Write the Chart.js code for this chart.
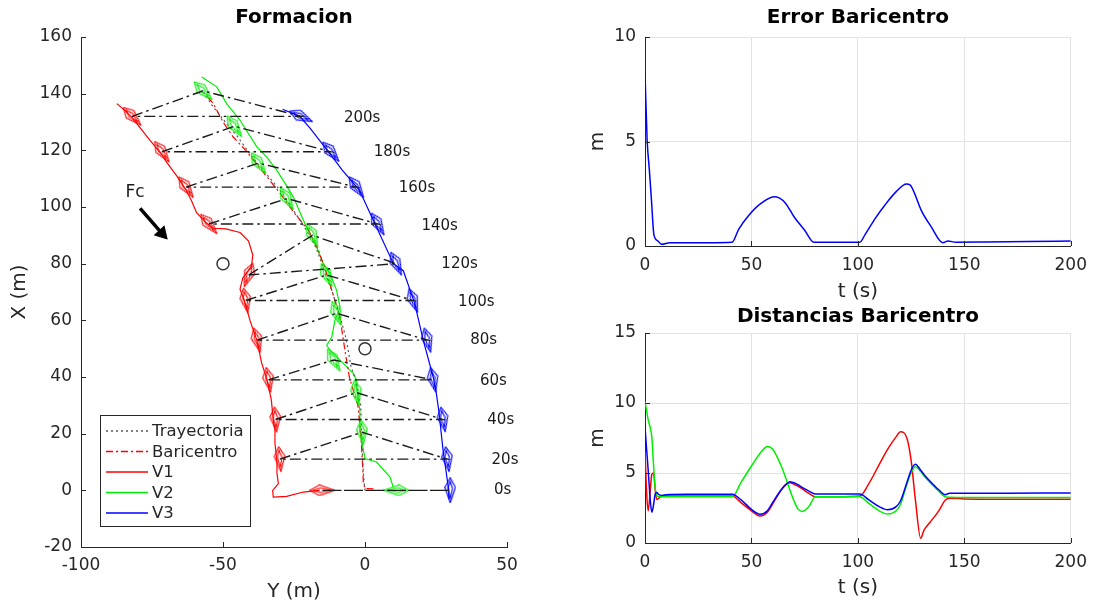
<!DOCTYPE html>
<html><head><meta charset="utf-8">
<script src="https://cdn.jsdelivr.net/npm/chart.js@4.4.1/dist/chart.umd.min.js"></script>
<style>
html,body{margin:0;padding:0;background:#fff;width:1096px;height:605px;overflow:hidden}
canvas{position:absolute}
#c1{left:0;top:0}
#c2{left:560px;top:0}
#c3{left:560px;top:295px}
</style></head><body>
<canvas id="c1" width="540" height="605"></canvas>
<canvas id="c2" width="536" height="305"></canvas>
<canvas id="c3" width="536" height="310"></canvas>
<script>
// ---------------- DATA ----------------
// Formation snapshots (Y = horizontal axis, X = vertical axis, metres)
const times      = [0, 20, 40, 60, 80, 100, 120, 140, 160, 180, 200];
const timeLabels = ['0s','20s','40s','60s','80s','100s','120s','140s','160s','180s','200s'];
const v1Y = [-15, -30, -31.5, -34, -38, -42, -41, -55, -63, -71.5, -82];
const v1X = [0, 11, 25, 39, 53, 67, 76, 94, 107, 119.5, 132];
const v2Y = [11, -1, -3, -11, -10, -13.5, -18.5, -27.5, -37.5, -46, -57];
const v2X = [0, 20.5, 34.5, 46, 62.5, 76, 90, 103, 115.5, 128.5, 141];
const v3Y = [30, 29, 27.5, 24, 22, 17, 11, 4.5, -3, -12, -22.5];
const v3X = [0, 11, 25, 39, 53, 67, 80, 94, 107, 119.5, 132];
// vessel headings at the snapshots (deg, clockwise from +X)
const v1Psi = [-90, -5, -5, -10, -15, -10, 20, -40, -35, -35, -45];
const v2Psi = [90, -5, -10, -30, -20, -25, -25, -30, -35, -35, -45];
const v3Psi = [0, -8, -10, -12, -15, -20, -25, -30, -35, -40, -65];
// label positions for snapshot times
const labY = [48.5, 49.3, 47.8, 45.2, 41.8, 39.2, 33.3, 26.3, 18.3, 9.5, -1];
const labX = [0, 10.5, 24.8, 38.7, 53, 66.6, 79.8, 93.2, 106.5, 119.5, 131.5];

// vessel tracks
const v1PathY = [-16,-21.7,-27.6,-32.3,-32.5,-30.5,-31,-31,-31.7,-31.7,-32.3,-33,-34.5,-36.4,-38.1,-40.5,-42.5,-44,-43,-40,-39.5,-41,-44,-49,-53.5,-56,-59.3,-61,-63,-66.3,-70,-72.2,-75.7,-80,-82.2,-84.5,-87.4];
const v1PathX = [0,-0.6,-2.1,-2.4,0,2.4,6,10,16.5,21,25,32,39,45,53,60,67,71,75,79,83,88,91,92.3,92.5,94.5,98,102,106,111,116,119.4,123.5,129,131.8,134,136.5];
const v2PathY = [10,8.8,4.1,0,-1.2,-1.8,-1.8,-2.9,-2.9,-4.1,-7.6,-12.3,-13.5,-11.7,-10.6,-8.8,-10,-12.3,-14.7,-17,-19.4,-21.7,-25.2,-28.8,-31.1,-34.6,-38.1,-44,-48.7,-52.2,-57.5];
const v2PathX = [1,4.7,10,11.2,17.6,21.2,28.2,35.3,38.8,41.2,44.7,49.4,51.2,54.1,60,64.7,70.6,76.5,80,85.9,90.6,95.3,103.5,109.4,113,117.6,121.2,130.6,136.5,142.4,145.9];
const v3PathY = [29.5,29.5,28.5,27.5,26,25,24,20.5,17.5,13.5,10,4,-2,-8,-12.5,-19.5,-23,-29];
const v3PathX = [-3,0,7,14,28,35,40,53,66,77.5,80,93,106,113,119,128,132,134.5];
const barY = [3,0,-0.6,-0.8,-1.5,-2.5,-3.5,-5.5,-7,-8.8,-11.5,-14,-16.5,-20,-25,-30,-34,-38,-42,-46.4,-50,-53.4,-56];
const barX = [0.5,0.6,3,8,20,30,33,40,49,61,70,78,85,92,98,105,110,115,120,124.7,130,136.5,139.5];
const trajY = [0,-0.5,-1,-1.5,-3,-5,-6,-7,-9,-11.5,-14.5,-17,-19,-22,-26,-30,-35,-40,-45,-50,-54,-57];
const trajX = [0,5,15,30,38,44,50,55,62,70,78,85,89,94,100,106,112,118,125,131,136,141];
// obstacles and disturbance force
const obstY = [-50, 0];
const obstX = [80, 50];
const fcY = [-79.2, -71.5];
const fcX = [99.5, 90.7];
const fcLabel = {y: -81, x: 105, text: 'Fc'};

// Error Baricentro
const errT = [0,1,2,3,4.2,6,7.8,11.7,20,30,40.9,44,48.9,54,60.6,63,66,70,75,79.3,90,100.9,103.3,108,113,118,122.8,124.5,126.6,129.7,134.4,139.9,142.3,146,160,180,200];
const errV = [8.3,5.07,3.7,2.25,0.53,0.25,0.08,0.16,0.16,0.16,0.18,0.8,1.48,2.0,2.36,2.3,2.05,1.4,0.75,0.18,0.18,0.18,0.53,1.3,2.0,2.6,2.97,2.93,2.52,1.72,0.93,0.16,0.24,0.18,0.19,0.21,0.24];

// Distancias Baricentro
const distT = [0,0.8,1.5,2.5,3.2,4,4.8,5.5,6.5,8,10,20,30,41,45,50,54,57.5,60,64,66,68,70,72,74,77,80,90,101,105,110,114,118,120,123,125,127,129.5,131,134,138,141,143,150,170,200];
const dV1 = [6.6,3.5,2.3,3.8,4.9,5.0,3.8,3.1,3.2,3.35,3.35,3.35,3.35,3.35,2.9,2.3,1.93,2.2,2.8,3.8,4.15,4.3,4.2,4.05,3.85,3.55,3.3,3.3,3.35,4.2,5.6,6.7,7.6,7.95,7.5,5.9,3.1,0.33,0.9,1.5,2.3,3.05,3.2,3.15,3.13,3.12];
const dV2 = [10.1,9.4,8.8,8.2,7.6,5.6,3.9,3.4,3.3,3.3,3.3,3.3,3.3,3.3,4.3,5.5,6.4,6.9,6.7,5.5,4.7,3.8,3.0,2.4,2.25,2.6,3.3,3.3,3.3,2.85,2.3,2.07,2.3,2.75,4.2,5.0,5.45,5.1,4.8,4.3,3.7,3.3,3.27,3.25,3.25,3.25];
const dV3 = [8.3,6.6,5.2,3.0,2.2,2.7,3.5,3.6,3.45,3.4,3.45,3.48,3.48,3.48,3.1,2.4,2.05,2.3,2.9,3.8,4.15,4.38,4.3,4.15,3.95,3.7,3.5,3.5,3.5,3.1,2.6,2.38,2.6,3.0,4.3,5.2,5.62,5.2,4.9,4.4,3.8,3.45,3.55,3.55,3.56,3.57];

// ---------------- STYLE ----------------
const FONT = "'DejaVu Sans', sans-serif";
const INK = '#262626';
const RED = '#ff0000', GREEN = '#00ee00', BLUE = '#0000ff';
Chart.defaults.font.family = FONT;
Chart.defaults.color = INK;
Chart.defaults.animation = false;
Chart.defaults.events = [];
Chart.defaults.plugins.legend.display = false;
Chart.defaults.plugins.tooltip.enabled = false;

function pts(xs, ys){ return xs.map((x,i)=>({x:x, y:ys[i]})); }

function boatImage(color){
  const c = document.createElement('canvas'); c.width = 12; c.height = 26;
  const g = c.getContext('2d'); g.strokeStyle = color; g.lineWidth = 1.1;
  g.beginPath(); g.moveTo(6,0.5); g.lineTo(11.3,10); g.lineTo(6,25.5); g.lineTo(0.7,10); g.closePath(); g.stroke();
  g.beginPath(); g.moveTo(6,4); g.lineTo(8.3,11); g.lineTo(6,21); g.lineTo(3.7,11); g.closePath(); g.stroke();
  return c;
}

function pathDs(label, ys, xs, color, dash, order, legend){
  return {label, data: pts(ys, xs), showLine: true, borderColor: color, borderWidth: 1.2,
          borderDash: dash || [], pointRadius: 0, fill: false, order, legendEntry: legend};
}
function boatDs(ys, xs, psi, color){
  const img = boatImage(color);
  return {data: pts(ys, xs), showLine: false, pointStyle: img,
          pointRotation: ctx => psi[ctx.dataIndex], pointRadius: 8, order: 1};
}

const formDatasets = times.map((t,i)=>({
  data: [{x:v1Y[i],y:v1X[i]},{x:v2Y[i],y:v2X[i]},{x:v3Y[i],y:v3X[i]},{x:v1Y[i],y:v1X[i]}],
  showLine: true, borderColor: '#1a1a1a', borderWidth: 1.4, borderDash: [11,4,2.5,4],
  pointRadius: 0, order: 0
}));

// small inward tick marks on the left and bottom axes (MATLAB style)
const inTicks = {
  id: 'inTicks',
  afterDraw(chart){
    const {ctx, scales:{x, y}, chartArea:ca} = chart;
    ctx.save(); ctx.strokeStyle = INK; ctx.lineWidth = 1; ctx.setLineDash([]);
    ctx.beginPath();
    x.ticks.forEach(t => { const p = Math.round(x.getPixelForValue(t.value)) + 0.5; ctx.moveTo(p, ca.bottom); ctx.lineTo(p, ca.bottom - 5); });
    y.ticks.forEach(t => { const p = Math.round(y.getPixelForValue(t.value)) + 0.5; ctx.moveTo(ca.left, p); ctx.lineTo(ca.left + 5, p); });
    ctx.stroke(); ctx.restore();
  }
};

const extrasPlugin = {
  id: 'extras',
  afterDatasetsDraw(chart){
    const {ctx, scales:{x, y}, chartArea:ca} = chart;
    ctx.save();
    // time labels
    ctx.font = '15px ' + FONT; ctx.fillStyle = '#1a1a1a';
    ctx.textAlign = 'center'; ctx.textBaseline = 'middle';
    timeLabels.forEach((s,i)=> ctx.fillText(s, x.getPixelForValue(labY[i]), y.getPixelForValue(labX[i])));
    // Fc label
    ctx.font = '17px ' + FONT;
    ctx.fillText(fcLabel.text, x.getPixelForValue(fcLabel.y), y.getPixelForValue(fcLabel.x));
    // legend
    const entries = chart.data.datasets.filter(d => d.legendEntry);
    const bx = ca.left + 19, bw = 150, rowH = 20.5, bh = 111;
    const by = ca.bottom - 21 - bh;
    ctx.fillStyle = '#fff'; ctx.fillRect(bx, by, bw, bh);
    ctx.strokeStyle = INK; ctx.lineWidth = 1; ctx.setLineDash([]);
    ctx.strokeRect(bx + 0.5, by + 0.5, bw, bh);
    ctx.font = '16.5px ' + FONT; ctx.textAlign = 'left'; ctx.fillStyle = INK;
    entries.forEach((d,i)=>{
      const yy = by + 16 + i*rowH;
      ctx.beginPath(); ctx.strokeStyle = d.borderColor; ctx.lineWidth = 1.3;
      ctx.setLineDash(d.borderDash || []);
      ctx.moveTo(bx + 6, yy); ctx.lineTo(bx + 48, yy); ctx.stroke();
      ctx.setLineDash([]);
      ctx.fillText(d.label, bx + 52, yy + 1);
    });
    ctx.restore();
  }
};

// ---------------- CHART 1: Formacion ----------------
new Chart(document.getElementById('c1'), {
  type: 'scatter',
  data: { datasets: [
    ...formDatasets,
    boatDs(v1Y, v1X, v1Psi, RED),
    boatDs(v2Y, v2X, v2Psi, GREEN),
    boatDs(v3Y, v3X, v3Psi, BLUE),
    pathDs('Trayectoria', trajY, trajX, '#555555', [2,3], 3, true),
    pathDs('Baricentro', barY, barX, RED, [7,3,2,3], 3, true),
    pathDs('V1', v1PathY, v1PathX, RED, [], 4, true),
    pathDs('V2', v2PathY, v2PathX, GREEN, [], 4, true),
    pathDs('V3', v3PathY, v3PathX, BLUE, [], 4, true),
    {data: pts(obstY, obstX), showLine: false, pointStyle: 'circle', pointRadius: 6,
     pointBorderColor: '#333', pointBorderWidth: 1.5, pointBackgroundColor: 'rgba(0,0,0,0)', order: 2},
    {data: pts(fcY, fcX), showLine: true, borderColor: '#000', borderWidth: 3.5,
     pointRadius: [0, 5], pointStyle: 'triangle', pointRotation: 137,
     pointBackgroundColor: '#000', pointBorderColor: '#000', order: 2}
  ]},
  options: {
    responsive: false, maintainAspectRatio: false,
    layout: {padding: {top: 0, right: 33, bottom: 0, left: 0}},
    plugins: {
      title: {display: true, text: 'Formacion', fullSize: false, color: '#000',
              font: {size: 20, weight: 'bold', family: FONT}, padding: {top: 6, bottom: 7}}
    },
    scales: {
      x: {type: 'linear', min: -100, max: 50, ticks: {stepSize: 50, font: {size: 17}, padding: 0, color: INK},
          grid: {display: false}, border: {display: true, color: INK, width: 1},
          title: {display: true, text: 'Y (m)', font: {size: 20}, color: INK, padding: {top: 0, bottom: 1}},
          afterFit: s => { s.height = 58; }},
      y: {type: 'linear', min: -20, max: 160, ticks: {stepSize: 20, font: {size: 17}, padding: 1, color: INK},
          grid: {display: false}, border: {display: true, color: INK, width: 1},
          title: {display: true, text: 'X (m)', font: {size: 20}, color: INK, padding: {top: 8, bottom: 0}},
          afterFit: s => { s.width = 81; }}
    }
  },
  plugins: [extrasPlugin, inTicks]
});

// ---------------- Right charts ----------------
function rightScales(ymax, xh, tbot){
  return {
    x: {type: 'linear', min: 0, max: 200, ticks: {stepSize: 50, font: {size: 17}, padding: 9, color: INK},
        grid: {color: '#e2e2e2', lineWidth: 1, drawTicks: false}, border: {display: true, color: INK, width: 1},
        title: {display: true, text: 't (s)', font: {size: 20}, color: INK, padding: {top: 0, bottom: tbot}},
        afterFit: s => { s.height = xh; }},
    y: {type: 'linear', min: 0, max: ymax, ticks: {stepSize: 5, font: {size: 17}, padding: 9, color: INK},
        grid: {color: '#e2e2e2', lineWidth: 1, drawTicks: false}, border: {display: true, color: INK, width: 1},
        title: {display: true, text: 'm', font: {size: 20}, color: INK, padding: {top: 26, bottom: 0}},
        afterFit: s => { s.width = 85; }}
  };
}
function lineDs(ts, vs, color){
  return {data: pts(ts, vs), showLine: true, borderColor: color, borderWidth: 1.5,
          pointRadius: 0, cubicInterpolationMode: 'monotone'};
}

new Chart(document.getElementById('c2'), {
  type: 'scatter',
  data: {datasets: [lineDs(errT, errV, BLUE)]},
  options: {
    responsive: false, maintainAspectRatio: false,
    layout: {padding: {top: 0, right: 22, bottom: 0, left: 0}},
    plugins: {title: {display: true, text: 'Error Baricentro', fullSize: false, color: '#000',
              font: {size: 20, weight: 'bold', family: FONT}, padding: {top: 6, bottom: 7}}},
    scales: rightScales(10, 59, 1)
  },
  plugins: [inTicks]
});

new Chart(document.getElementById('c3'), {
  type: 'scatter',
  data: {datasets: [lineDs(distT, dV3, BLUE), lineDs(distT, dV2, GREEN), lineDs(distT, dV1, RED)]},
  options: {
    responsive: false, maintainAspectRatio: false,
    layout: {padding: {top: 0, right: 22, bottom: 0, left: 0}},
    plugins: {title: {display: true, text: 'Distancias Baricentro', fullSize: false, color: '#000',
              font: {size: 20, weight: 'bold', family: FONT}, padding: {top: 10, bottom: 4}}},
    scales: rightScales(15, 62, 5)
  },
  plugins: [inTicks]
});
</script>
</body></html>
